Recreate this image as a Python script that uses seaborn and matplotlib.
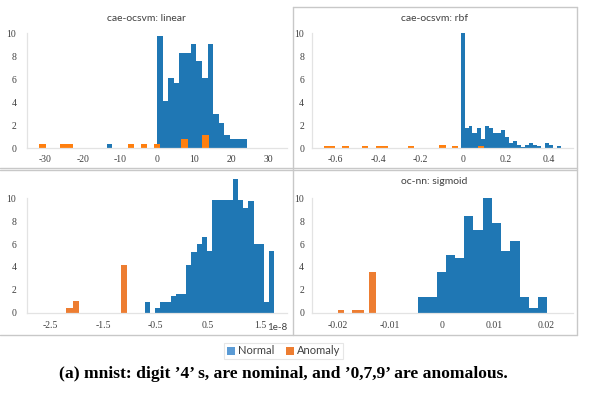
import matplotlib
matplotlib.use("Agg")
import numpy as np
import pandas as pd
import matplotlib.pyplot as plt
import seaborn as sns
from matplotlib.patches import Patch
from matplotlib.lines import Line2D

sns.set_theme(style="white")
plt.rcParams['axes.unicode_minus'] = False
plt.rcParams['font.family'] = ['Liberation Serif', 'DejaVu Serif']

BLUE = "#1f77b4"
ORANGE_A = "#ff7f0e"
ORANGE_B = "#ed7d31"
LEG_BLUE = "#5b9bd5"
LEG_ORANGE = "#ed7d31"
TITLE_FONT = ['Liberation Sans Narrow', 'Lato', 'DejaVu Sans']

# ---------------- data (bin edges / bar heights) -------
# cae-ocsvm: linear
lin_normal_edges = [-13.4, -12.1, 0.0, 1.51, 3.02, 4.53, 6.04, 7.55, 9.06, 10.57,
                    12.08, 13.59, 15.10, 16.61, 18.12, 19.63, 21.14, 22.65, 24.16]
lin_normal_heights = [0.35, 0, 9.8, 4.1, 6.1, 5.7, 8.3, 8.3, 9.1, 7.6, 6.1, 9.1,
                      3.0, 2.2, 1.1, 0.75, 0.75, 0.75]
lin_anomaly_edges = [-31.6, -29.9, -26.2, -22.6, -7.9, -6.3, -4.3, -2.7, -0.7, 0.9,
                     6.5, 8.3, 12.1, 13.9]
lin_anomaly_heights = [0.35, 0, 0.35, 0, 0.35, 0, 0.35, 0, 0.35, 0, 0.75, 0, 1.1]

# cae-ocsvm: rbf
rbf_normal_edges = [-0.013, 0.006, 0.025, 0.043, 0.062, 0.081, 0.100, 0.119, 0.137,
                    0.156, 0.175, 0.194, 0.213, 0.231, 0.250, 0.269, 0.288, 0.307,
                    0.325, 0.344, 0.363, 0.382, 0.401, 0.419, 0.438, 0.457]
rbf_normal_heights = [10.0, 1.75, 1.9, 1.35, 1.75, 0.82, 1.9, 1.75, 1.35, 1.35, 1.6,
                      0.95, 0.4, 0.65, 0.25, 0.12, 0.3, 0.4, 0.3, 0.15, 0, 0.4, 0.3,
                      0, 0.15]
rbf_anomaly_edges = [-0.655, -0.600, -0.567, -0.536, -0.473, -0.445, -0.411, -0.352,
                     -0.260, -0.230, -0.114, -0.081, -0.053, -0.023, 0.069, 0.098]
rbf_anomaly_heights = [0.15, 0, 0.15, 0, 0.15, 0, 0.15, 0, 0.15, 0, 0.3, 0, 0.15, 0,
                       0.15]

# third panel (values in units of 1e-8)
p3_scale = 1e-8
p3_normal_edges = [-0.711, -0.612, -0.513, -0.415, -0.316, -0.217, -0.118, -0.019,
                   0.079, 0.178, 0.277, 0.376, 0.475, 0.573, 0.672, 0.771, 0.870,
                   0.969, 1.067, 1.166, 1.265, 1.364, 1.463, 1.561, 1.660, 1.759]
p3_normal_heights = [0.96, 0, 0.38, 0.96, 0.96, 1.49, 1.63, 1.63, 4.17, 5.33, 6.0,
                     6.64, 5.4, 9.85, 9.85, 9.85, 9.85, 11.7, 9.85, 9.12, 9.8, 6.0,
                     6.0, 0.96, 5.4]
p3_anomaly_edges = [-2.215, -2.082, -1.956, -1.168, -1.048]
p3_anomaly_heights = [0.38, 1.02, 0, 4.17]

# oc-nn: sigmoid
sig_normal_edges = [-0.0046, -0.00283, -0.00106, 0.00071, 0.00248, 0.00425, 0.00602,
                    0.00779, 0.00956, 0.01133, 0.0131, 0.01487, 0.01664, 0.01841,
                    0.02018]
sig_normal_heights = [1.35, 1.35, 3.53, 5.04, 4.75, 8.45, 7.23, 10.0, 7.81, 5.37,
                      6.3, 1.35, 0.44, 1.35]
sig_anomaly_edges = [-0.0200, -0.01885, -0.01742, -0.01506, -0.01415, -0.01275]
sig_anomaly_heights = [0.2, 0, 0.2, 0, 3.58]

titles = ["cae-ocsvm: linear", "cae-ocsvm: rbf", "", "oc-nn: sigmoid"]
legend_labels = ["Normal", "Anomaly"]
caption = "(a) mnist: digit \u20194\u2019 s, are nominal, and \u20190,7,9\u2019 are anomalous."

x_ticks = [
    [-30, -20, -10, 0, 10, 20, 30],
    [-0.6, -0.4, -0.2, 0, 0.2, 0.4],
    [-2.5e-8, -1.5e-8, -0.5e-8, 0.5e-8, 1.5e-8],
    [-0.02, -0.01, 0, 0.01, 0.02],
]
x_tick_labels = [
    ["-30", "-20", "-10", "0", "10", "20", "30"],
    ["-0.6", "-0.4", "-0.2", "0", "0.2", "0.4"],
    ["-2.5", "-1.5", "-0.5", "0.5", "1.5"],
    ["-0.02", "-0.01", "0", "0.01", "0.02"],
]
y_ticks = [0, 2, 4, 6, 8, 10]

# ---------------------------------------------------------------------------
W, H = 591, 399
fig = plt.figure(figsize=(W / 100, H / 100), dpi=100)


def px_rect(x0, x1, y_zero, y_ten):
    return [x0 / W, 1 - y_zero / H, (x1 - x0) / W, (y_zero - y_ten) / H]


axes = [
    fig.add_axes(px_rect(26.8, 287.2, 148.0, 33.4)),
    fig.add_axes(px_rect(311.7, 572.7, 148.0, 33.4)),
    fig.add_axes(px_rect(26.8, 287.2, 312.7, 198.3)),
    fig.add_axes(px_rect(311.7, 572.7, 312.7, 198.3)),
]

series = [
    (lin_normal_edges, lin_normal_heights, lin_anomaly_edges, lin_anomaly_heights, 1.0, ORANGE_A),
    (rbf_normal_edges, rbf_normal_heights, rbf_anomaly_edges, rbf_anomaly_heights, 1.0, ORANGE_A),
    (p3_normal_edges, p3_normal_heights, p3_anomaly_edges, p3_anomaly_heights, p3_scale, ORANGE_B),
    (sig_normal_edges, sig_normal_heights, sig_anomaly_edges, sig_anomaly_heights, 1.0, ORANGE_B),
]
xlims = [(-35, 35), (-0.711, 0.513), (-2.958e-8, 2.006e-8), (-0.0251, 0.0251)]
ylab_pad = [7.5, 5.5, 7.5, 5.5]
xlab_pad = [5.0, 5.0, 6.3, 6.0]


def draw_hist(ax, edges, heights, scale, color):
    e = [v * scale for v in edges]
    df = pd.DataFrame({
        "value": [(a + b) / 2 for a, b in zip(e[:-1], e[1:])],
        "height": list(heights),
    })
    sns.histplot(data=df, x="value", weights="height", bins=e, element="step",
                 fill=True, color=color, alpha=1, linewidth=0, ax=ax)


for i, ax in enumerate(axes):
    ne, nh, ae, ah, sc, ocol = series[i]
    draw_hist(ax, ne, nh, sc, BLUE)
    draw_hist(ax, ae, ah, sc, ocol)
    for coll in ax.collections:
        coll.set_clip_on(False)
    ax.set_xlim(*xlims[i])
    ax.set_ylim(0, 10)
    ax.set_xticks(x_ticks[i])
    ax.set_xticklabels(x_tick_labels[i])
    ax.set_yticks(y_ticks)
    ax.set_yticklabels([str(v) for v in y_ticks])
    ax.set_xlabel("")
    ax.set_ylabel("")
    ax.set_facecolor("none")
    for s in ["top", "right"]:
        ax.spines[s].set_visible(False)
    for s in ["left", "bottom"]:
        ax.spines[s].set_color("#e3e3e3")
        ax.spines[s].set_linewidth(0.9)
    ax.tick_params(axis="both", length=0, labelsize=7, colors="#404040")
    ax.tick_params(axis="y", pad=ylab_pad[i])
    ax.tick_params(axis="x", pad=xlab_pad[i])
    ax.grid(False)

# offset label for third panel
fig.text(287.5 / W, 1 - 327.3 / H, "1e-8", ha="right", va="center", fontsize=7,
         color="#404040", family=TITLE_FONT)

# titles
title_pos = [(146, 18.3), (434.5, 18.3), (146, 181.7), (434.5, 181.7)]
for t, (x, y) in zip(titles, title_pos):
    if t:
        fig.text(x / W, 1 - y / H, t, ha="center", va="center", fontsize=7.5,
                 color="#404040", family=TITLE_FONT)

# panel borders
BORDER = "#c8c8c8"


def hline(y, x0, x1):
    fig.add_artist(Line2D([x0 / W, x1 / W], [1 - y / H, 1 - y / H],
                          transform=fig.transFigure, color=BORDER, lw=1.0))


def vline(x, y0, y1):
    fig.add_artist(Line2D([x / W, x / W], [1 - y0 / H, 1 - y1 / H],
                          transform=fig.transFigure, color=BORDER, lw=1.0))


hline(6.7, 292.7, 577.0)
hline(168.3, 0, 577.0)
hline(170.0, 0, 577.0)
hline(335.0, 0, 577.0)
vline(292.7, 6.7, 335.0)
vline(577.0, 6.7, 335.0)

# legend
handles = [Patch(facecolor=LEG_BLUE, edgecolor="none"),
           Patch(facecolor=LEG_ORANGE, edgecolor="none")]
leg = fig.legend(handles, legend_labels, loc="center", ncol=2,
                 bbox_to_anchor=(283.7 / W, 1 - 351 / H), frameon=True,
                 fancybox=False, handlelength=0.7, handleheight=0.7,
                 handletextpad=0.3, columnspacing=1.0, borderpad=0.25,
                 prop={"family": TITLE_FONT, "size": 8})
leg.get_frame().set_edgecolor("#e0e0e0")
leg.get_frame().set_linewidth(0.8)
for txt in leg.get_texts():
    txt.set_color("#404040")

# caption
fig.text(283.3 / W, 1 - 374.3 / H, caption, ha="center", va="center",
         fontsize=12.6, fontweight="bold", family=['Liberation Serif', 'DejaVu Serif'],
         color="black")

fig.savefig("out.png", dpi=100)
